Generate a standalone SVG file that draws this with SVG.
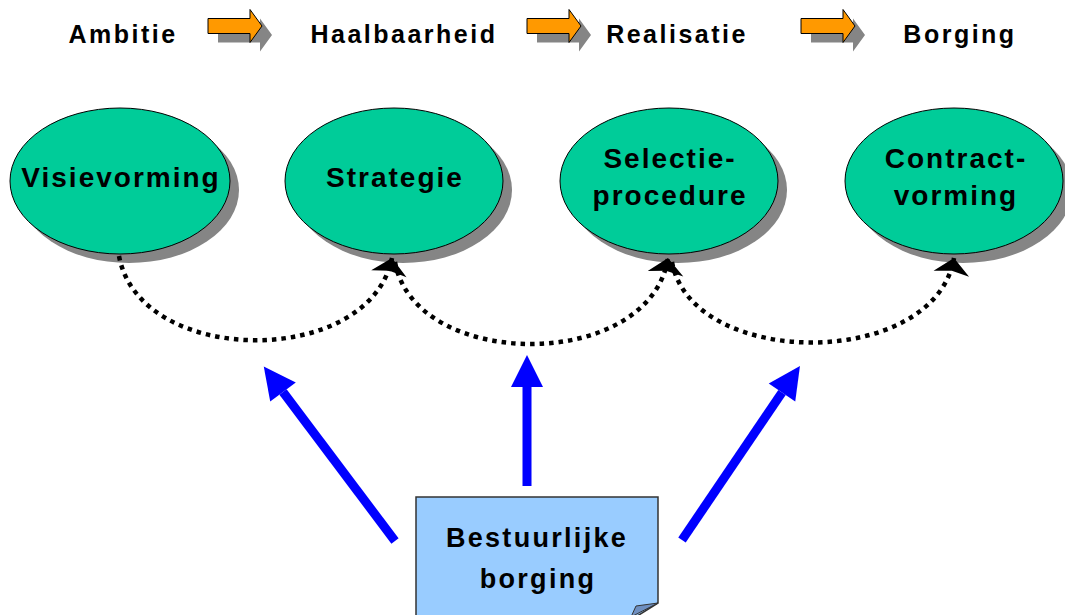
<svg xmlns="http://www.w3.org/2000/svg" width="1065" height="615" viewBox="0 0 1065 615">
<style>
.hdr{font-family:"Liberation Sans",Arial,sans-serif;font-weight:bold;font-size:25px;letter-spacing:2.5px;fill:#000;text-anchor:middle}
.lbl{font-family:"Liberation Sans",Arial,sans-serif;font-weight:bold;font-size:28px;letter-spacing:2px;fill:#000;text-anchor:middle}
.box{font-family:"Liberation Sans",Arial,sans-serif;font-weight:bold;font-size:27px;letter-spacing:2.3px;fill:#000;text-anchor:middle}
.ell{fill:#00CC99;stroke:#000;stroke-width:1}
.shd{fill:#858585}
.oarr{fill:#FF9900;stroke:#000;stroke-width:1}
.dot{fill:none;stroke:#000;stroke-width:4.5;stroke-dasharray:4.5 5;marker-end:url(#dh)}
.blue{stroke:#0000FF;stroke-width:9;fill:none;marker-end:url(#bh)}
</style>
<defs>
<path id="oa" d="M0,-7.5 H42 V-16.5 L54,0 L42,16.5 V7.5 H0 Z"/>
<marker id="dh" markerUnits="userSpaceOnUse" orient="auto" refX="16" refY="0" markerWidth="40" markerHeight="40" overflow="visible">
<path d="M16,0 L0,-18 L3,0 L0,18 Z" fill="#000"/>
</marker>
<marker id="bh" markerUnits="userSpaceOnUse" orient="auto" refX="0" refY="0" markerWidth="40" markerHeight="40" overflow="visible">
<path d="M0,-16 L32,0 L0,16 Z" fill="#0000FF"/>
</marker>
</defs>
<rect width="1065" height="615" fill="#fff"/>

<g id="header">
<text class="hdr" x="123" y="43">Ambitie</text>
<text class="hdr" x="404" y="43">Haalbaarheid</text>
<text class="hdr" x="677" y="43">Realisatie</text>
<text class="hdr" x="960" y="43">Borging</text>
<g id="phase-arrow-1">
<use href="#oa" transform="translate(218,35)" class="shd"/>
<use href="#oa" transform="translate(208,26)" class="oarr"/>
</g>
<g id="phase-arrow-2">
<use href="#oa" transform="translate(537,35)" class="shd"/>
<use href="#oa" transform="translate(527,26)" class="oarr"/>
</g>
<g id="phase-arrow-3">
<use href="#oa" transform="translate(811,35)" class="shd"/>
<use href="#oa" transform="translate(801,26)" class="oarr"/>
</g>
</g>

<g id="node-visievorming">
<ellipse class="shd" cx="129" cy="190" rx="110" ry="73"/>
<ellipse class="ell" cx="120" cy="181" rx="110" ry="73"/>
<text class="lbl" x="121" y="187">Visievorming</text>
</g>
<g id="node-strategie">
<ellipse class="shd" cx="403" cy="190" rx="109" ry="73"/>
<ellipse class="ell" cx="394" cy="181" rx="109" ry="73"/>
<text class="lbl" x="395" y="187">Strategie</text>
</g>
<g id="node-selectieprocedure">
<ellipse class="shd" cx="678" cy="190" rx="109" ry="73"/>
<ellipse class="ell" cx="669" cy="181" rx="109" ry="73"/>
<text class="lbl" x="670" y="168">Selectie-</text>
<text class="lbl" x="670" y="205">procedure</text>
</g>
<g id="node-contractvorming">
<ellipse class="shd" cx="963" cy="190" rx="109" ry="73"/>
<ellipse class="ell" cx="954" cy="181" rx="109" ry="73"/>
<text class="lbl" x="956" y="168">Contract-</text>
<text class="lbl" x="956" y="205">vorming</text>
</g>

<g id="node-bestuurlijke-borging">
<path d="M416,497 H658 V603 L631,620 H416 Z" fill="#99CCFF" stroke="#333" stroke-width="1.5"/>
<path d="M658,603 L636,606 L631,617 Z" fill="#6E8FC0" stroke="#333" stroke-width="1"/>
<text class="box" x="537" y="547">Bestuurlijke</text>
<text class="box" x="538" y="588">borging</text>
</g>

<g id="connectors">
<path class="dot" d="M119,256 C140,368 370,368 392,258"/>
<path class="dot" d="M395,262 C415,372 650,372 668,258"/>
<path class="dot" d="M672,262 C692,370 935,370 954,258"/>
<line class="blue" x1="395" y1="541" x2="283" y2="392"/>
<line class="blue" x1="527" y1="486" x2="527" y2="387"/>
<line class="blue" x1="682" y1="540" x2="782" y2="392.5"/>
</g>
</svg>
